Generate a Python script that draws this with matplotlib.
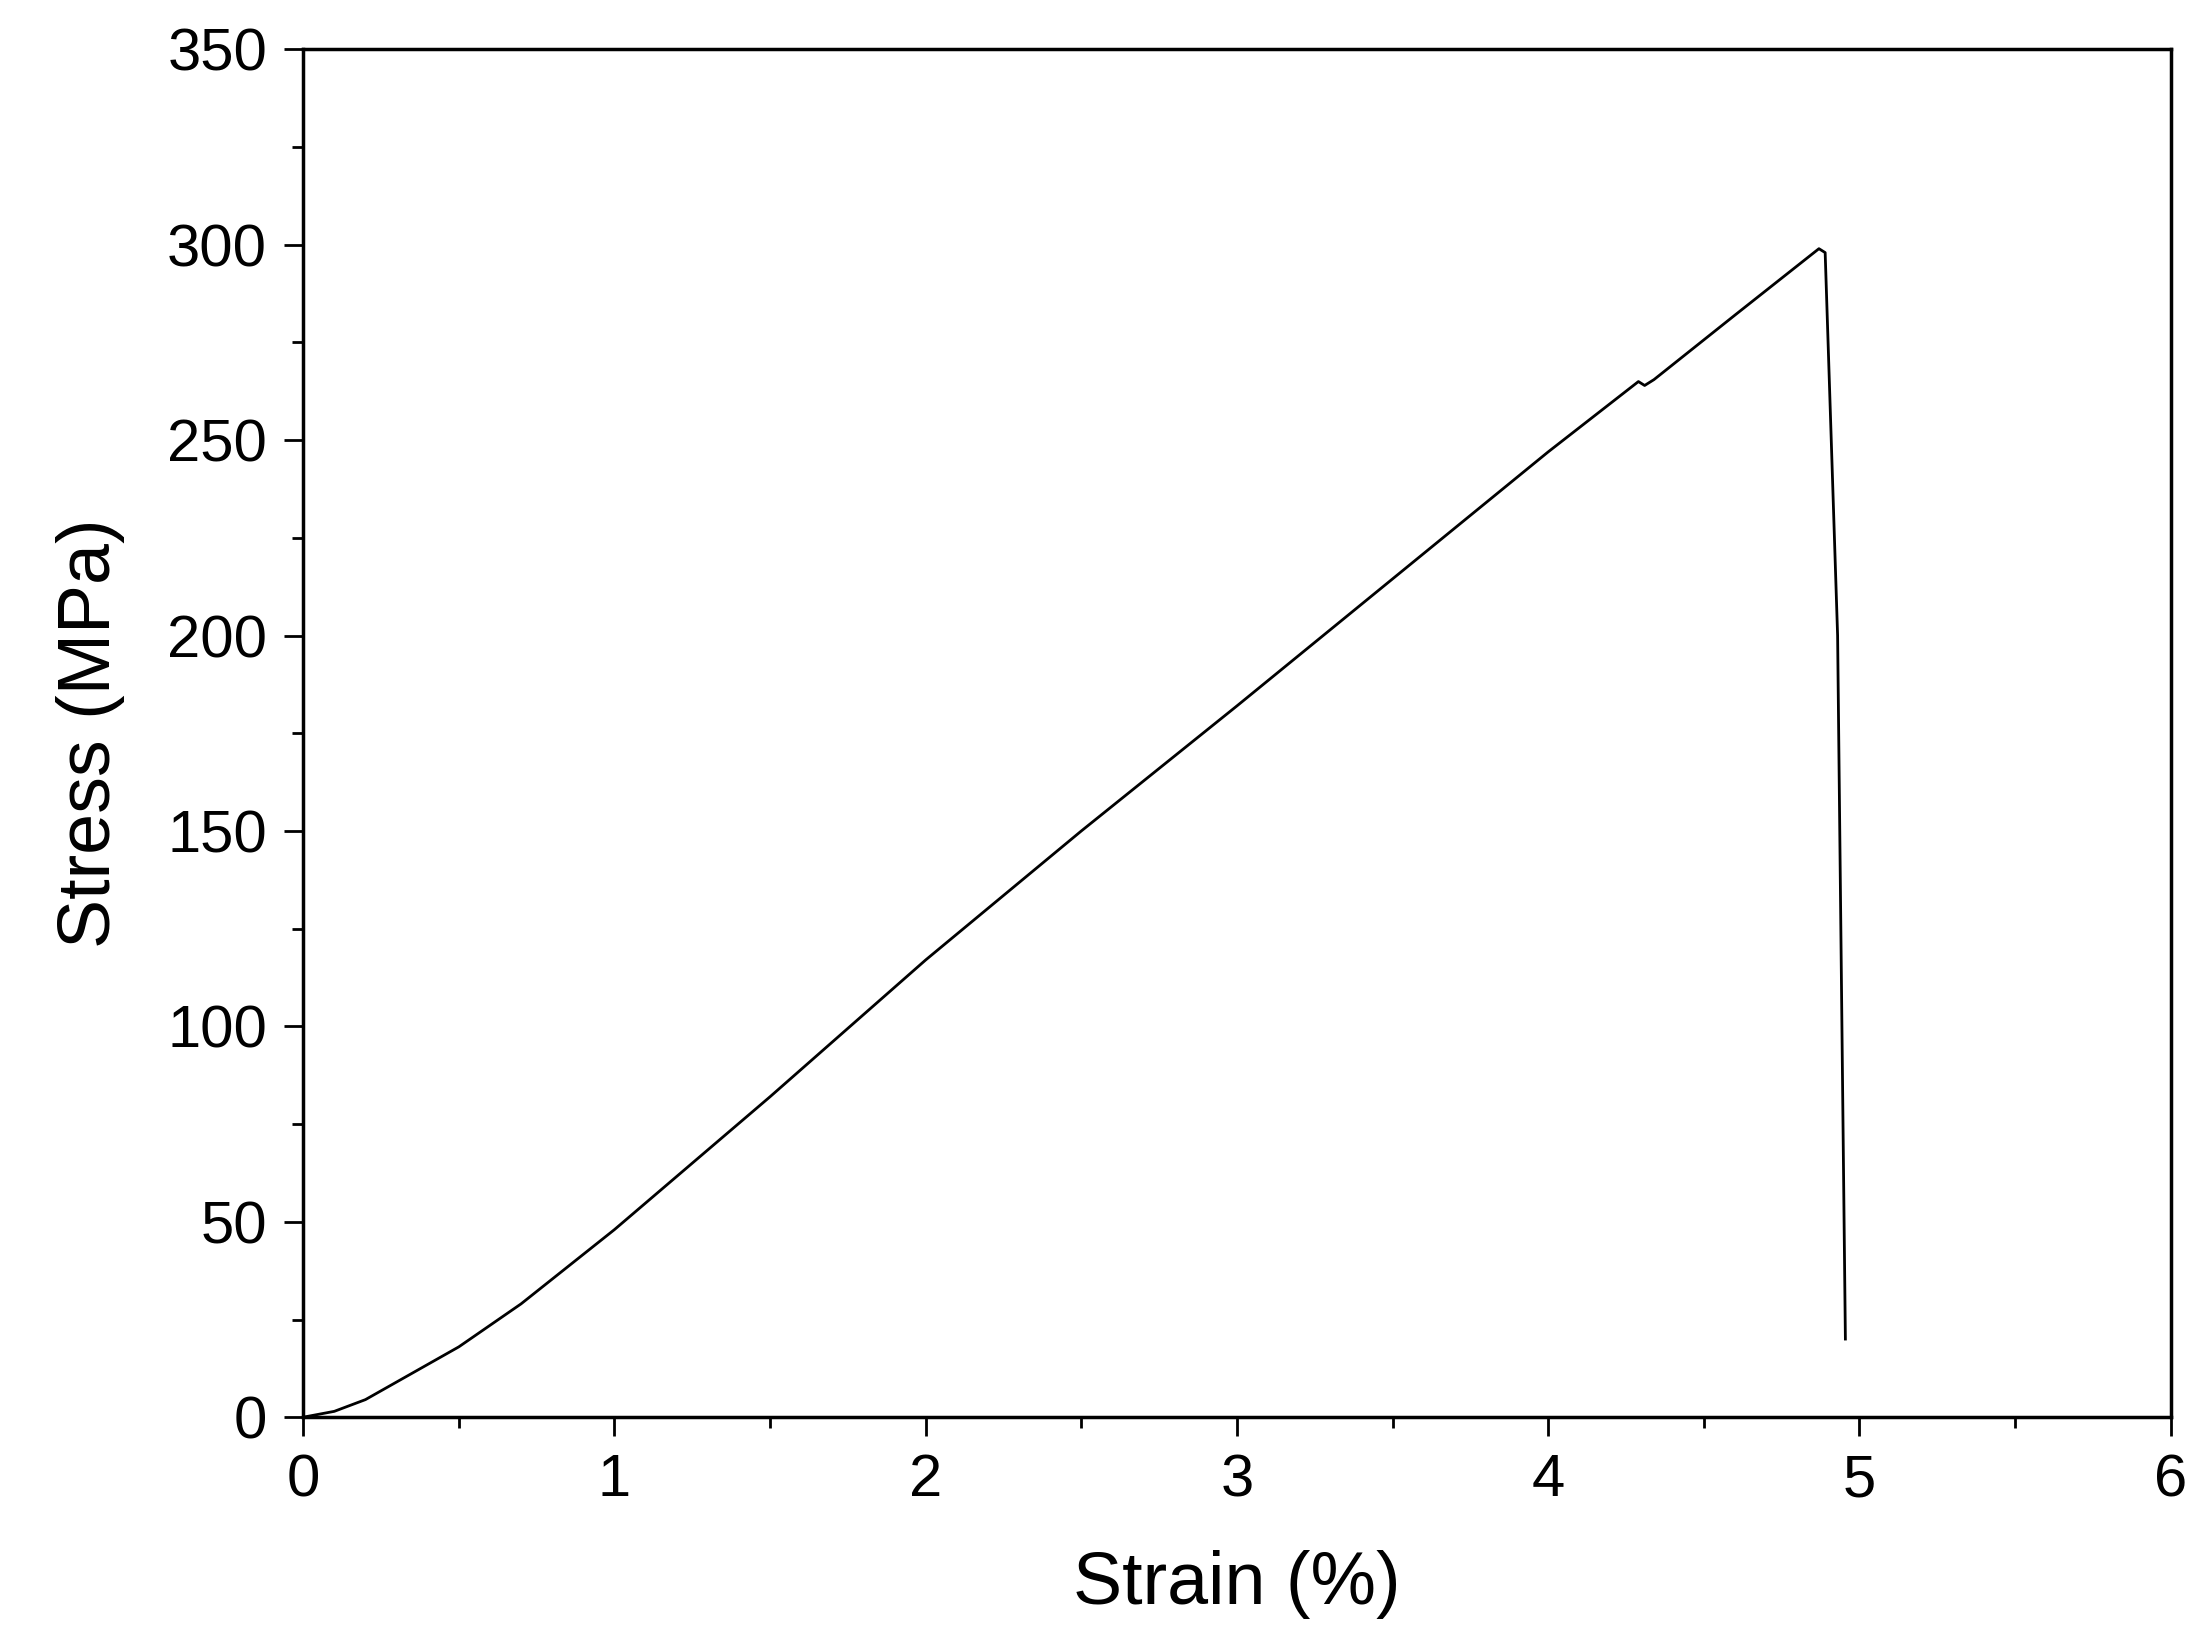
import matplotlib
matplotlib.use("Agg")
import matplotlib.pyplot as plt
from matplotlib.ticker import MultipleLocator

plt.rcParams['font.family'] = ['Liberation Sans', 'DejaVu Sans']

# stress-strain curve
strain = [0, 0.1, 0.2, 0.3, 0.5, 0.7, 1.0, 1.5, 2.0, 2.5, 3.0, 3.5, 4.0,
          4.29, 4.31, 4.34, 4.6, 4.87, 4.89, 4.93, 4.955]
stress = [0, 1.5, 4.5, 9, 18, 29, 48, 82, 117, 150, 182, 214.5, 247,
          265, 264, 265.5, 282, 299, 298, 200, 20]

fig = plt.figure(figsize=(21.97, 16.46), dpi=100)
ax = fig.add_axes([0.138, 0.139, 0.850, 0.831])
ax.plot(strain, stress, color="black", lw=2)

ax.set_xlim(0, 6)
ax.set_ylim(0, 350)
ax.xaxis.set_major_locator(MultipleLocator(1))
ax.xaxis.set_minor_locator(MultipleLocator(0.5))
ax.yaxis.set_major_locator(MultipleLocator(50))
ax.yaxis.set_minor_locator(MultipleLocator(25))
ax.tick_params(which="both", direction="out", width=2, labelsize=43, pad=12)
ax.tick_params(which="major", length=14)
ax.tick_params(which="minor", length=8)
for s in ax.spines.values():
    s.set_linewidth(2.5)
ax.set_xlabel("Strain (%)", fontsize=53, labelpad=30)
ax.set_ylabel("Stress (MPa)", fontsize=53, labelpad=30)

fig.savefig("out.png", dpi=100)
